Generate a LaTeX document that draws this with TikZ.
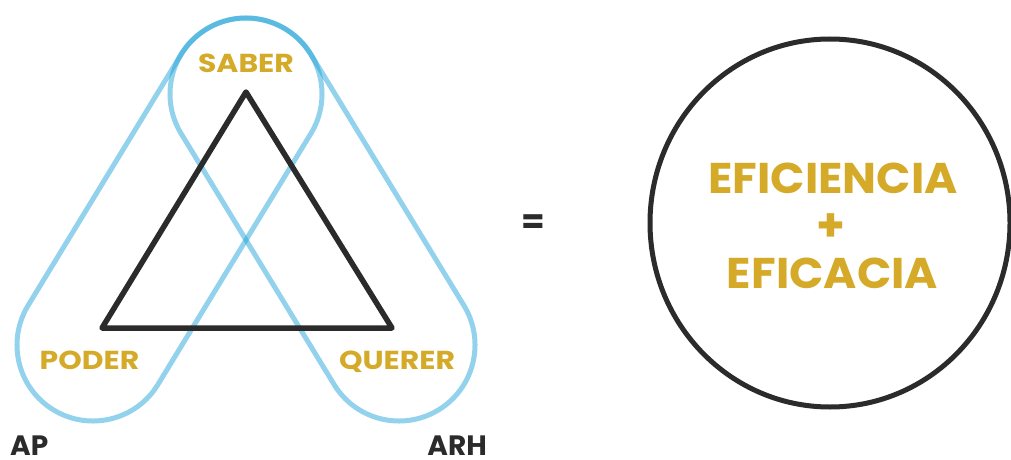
\documentclass[tikz,border=0pt]{standalone}
\usepackage{fontspec}
\setmainfont{Poppins}
\newfontfamily\lblfont[FakeStretch=1.15]{Poppins}
\newfontfamily\bigfont[FakeStretch=1.05]{Poppins}
\usetikzlibrary{calc}
\definecolor{gold}{RGB}{212,170,40}
\definecolor{ink}{RGB}{43,43,43}
\definecolor{capblue}{RGB}{27,161,215}
\begin{document}
\begin{tikzpicture}[x=1pt,y=1pt,
  capsule/.style={draw=capblue, draw opacity=0.47, line width=5pt},
  tri/.style={draw=ink, line width=5.5pt, line join=round},
  ring/.style={draw=ink, line width=5pt},
  lbl/.style={text=gold, font=\lblfont\bfseries\fontsize{26}{26}\selectfont, inner sep=0pt},
  side/.style={text=ink, font=\bfseries\fontsize{28}{28}\selectfont, inner sep=0pt},
  big/.style={text=gold, font=\bigfont\bfseries\fontsize{43}{43}\selectfont, inner sep=0pt}]
\useasboundingbox (0,0) rectangle (1011,-460);
\fill[white] (0,0) rectangle (1011,-460);
% capsule centres
\coordinate (T) at (246,-94);
\coordinate (L) at (93,-345);
\coordinate (R) at (399,-345);
% left capsule (SABER - PODER)
\draw[capsule] ($(T)+(-31.4:76)$) arc[start angle=-31.4,end angle=148.6,radius=76]
  -- ($(L)+(148.6:76)$) arc[start angle=148.6,end angle=328.6,radius=76] -- cycle;
% right capsule (SABER - QUERER)
\draw[capsule] ($(T)+(31.4:76)$) arc[start angle=31.4,end angle=211.4,radius=76]
  -- ($(R)+(211.4:76)$) arc[start angle=211.4,end angle=391.4,radius=76] -- cycle;
% triangle
\coordinate (A) at (246,-92);
\coordinate (B) at (102,-328);
\coordinate (C) at (392,-328);
\draw[tri] (A) -- (B) -- (C) -- cycle;
% labels
\node[lbl, anchor=base] (saber) at (246,-72.5) {SABER};
\node[lbl, anchor=base] (poder) at (89.5,-369.5) {PODER};
\node[lbl, anchor=base] (querer) at (397,-369.5) {QUERER};
\node[side, anchor=base west] (ap) at (10,-455) {AP};
\node[side, anchor=base east] (arh) at (487,-455) {ARH};
% equals
\node[side, font=\bfseries\fontsize{34}{34}\selectfont] (eq) at (533,-224) {=};
% result circle
\coordinate (O) at (830,-223);
\draw[ring] (O) ellipse [x radius=180, y radius=184];
\node[big, anchor=base] (efi) at (833,-193) {EFICIENCIA};
\node[big, font=\bfseries\fontsize{46}{46}\selectfont] (plus) at (831,-228) {+};
\node[big, anchor=base] (efa) at (832.5,-288) {EFICACIA};
\end{tikzpicture}
\end{document}
